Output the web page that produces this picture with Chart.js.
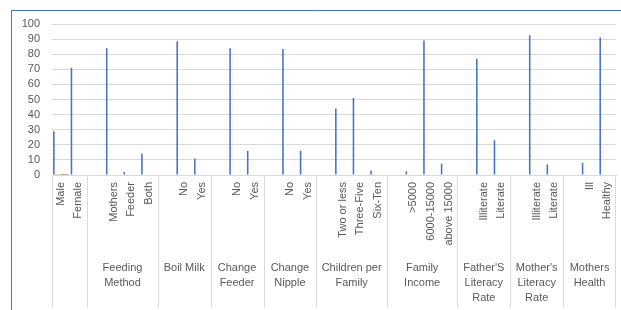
<!DOCTYPE html>
<html>
<head>
<meta charset="utf-8">
<script src="https://cdn.jsdelivr.net/npm/chart.js@4/dist/chart.umd.min.js"></script>
<style>
  html, body { margin: 0; padding: 0; background: #ffffff; }
  #wrap { position: relative; width: 621px; height: 310px; }
</style>
</head>
<body>
<div id="wrap"><canvas id="c" width="621" height="310"></canvas></div>
<script>
// ---- data ----
const categories = ['Male','Female','','Mothers','Feeder','Both','','No','Yes','','No','Yes','','No','Yes','',
  'Two or less','Three-Five','Six-Ten','','>5000','6000-15000','above 15000','','Illiterate','Literate','',
  'Illiterate','Literate','','Ill','Healthy'];
const percentages = [29,71,null,84,2,14,null,88.5,11,null,84,16,null,83.5,16,null,
  44,51,3,null,2.5,89,7.5,null,77,23,null,92.5,7,null,8,91];
const groupSizes = [2,4,3,3,3,4,4,3,3,3];
const groupNames = [[''],['Feeding','Method'],['Boil Milk'],['Change','Feeder'],['Change','Nipple'],
  ['Children per','Family'],['Family','Income'],["Father'S",'Literacy','Rate'],["Mother's",'Literacy','Rate'],
  ['Mothers','Health']];
const minorSeriesMale = [0.7,0.7,0.7,0.7,0.7,0.7,0.7,0.7,0.7];
const minorColors = ['#ED7D31','#A5A5A5','#FFC000','#5B9BD5','#70AD47','#264478','#9E480E','#636363','#997300'];
const yTicks = [0,10,20,30,40,50,60,70,80,90,100];

const FONT = "'Liberation Sans', Arial, sans-serif";
const TXT = '#595959';

const datasets = [{
  data: percentages,
  backgroundColor: '#4472C4',
  categoryPercentage: 0.88,
  barPercentage: 1
}];
minorSeriesMale.forEach((v, i) => {
  const d = categories.map(() => null);
  d[0] = v;
  datasets.push({ data: d, backgroundColor: minorColors[i], categoryPercentage: 0.88, barPercentage: 1 });
});

const groupPlugin = {
  id: 'groups',
  beforeDraw(chart) {
    const ctx = chart.ctx;
    ctx.save();
    ctx.strokeStyle = '#4472C4';
    ctx.lineWidth = 1;
    ctx.beginPath();
    ctx.moveTo(11.5, chart.height);
    ctx.lineTo(11.5, 10.5);
    ctx.lineTo(chart.width, 10.5);
    ctx.stroke();
    ctx.restore();
  },
  afterDraw(chart) {
    const { ctx, chartArea } = chart;
    const x = chart.scales.x;
    const n = categories.length;
    const w = (x.right - x.left) / n;
    const y0 = chartArea.bottom;
    ctx.save();
    ctx.strokeStyle = '#d9d9d9';
    ctx.lineWidth = 1;
    ctx.fillStyle = TXT;
    ctx.font = '11px ' + FONT;
    ctx.textAlign = 'center';
    ctx.textBaseline = 'middle';
    let idx = 0;
    groupSizes.forEach((size, g) => {
      const xa = x.left + idx * w;
      const xb = xa + size * w;
      const px = Math.round(xa) + 0.5;
      ctx.beginPath();
      ctx.moveTo(px, y0);
      ctx.lineTo(px, y0 + 132);
      ctx.stroke();
      groupNames[g].forEach((line, k) => {
        ctx.fillText(line, (xa + xb) / 2, y0 + 93 + k * 15);
      });
      idx += size;
    });
    const pr = Math.round(x.right) - 0.5;
    ctx.beginPath();
    ctx.moveTo(pr, y0);
    ctx.lineTo(pr, y0 + 132);
    ctx.stroke();
    ctx.restore();
  }
};

new Chart(document.getElementById('c'), {
  type: 'bar',
  data: { labels: categories, datasets },
  options: {
    responsive: false,
    animation: false,
    events: [],
    layout: { padding: { top: 24, right: 5, left: 12, bottom: 0 } },
    plugins: { legend: { display: false }, tooltip: { enabled: false } },
    scales: {
      x: {
        grid: { display: false, drawTicks: false },
        border: { display: true, color: '#d9d9d9' },
        ticks: {
          autoSkip: false, maxRotation: 90, minRotation: 90,
          color: TXT, font: { family: FONT, size: 11 }, padding: 7
        },
        afterFit(scale) { scale.height = 135; scale.paddingLeft = 0; scale.paddingRight = 0; }
      },
      y: {
        min: 0, max: 100,
        afterBuildTicks(scale) { scale.ticks = yTicks.map(v => ({ value: v })); },
        grid: { color: '#d9d9d9', drawTicks: false },
        border: { display: false },
        ticks: { autoSkip: false, color: TXT, font: { family: FONT, size: 11 }, padding: 12 },
        afterFit(scale) { scale.width = 40; scale.paddingTop = 0; scale.paddingBottom = 0; }
      }
    }
  },
  plugins: [groupPlugin]
});
</script>
</body>
</html>
